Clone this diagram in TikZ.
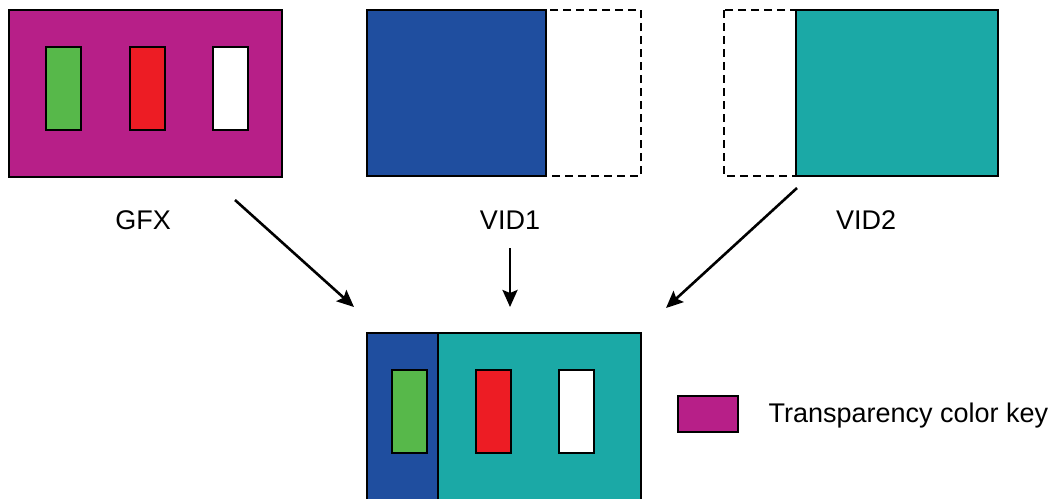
\documentclass[tikz,border=0pt]{standalone}
\usepackage{fontspec}
\setmainfont{Liberation Sans}
\usetikzlibrary{arrows.meta}
\definecolor{keymag}{HTML}{B71F88}
\definecolor{bargreen}{HTML}{57B84A}
\definecolor{barred}{HTML}{ED1C24}
\definecolor{vidblue}{HTML}{1F4E9F}
\definecolor{vidteal}{HTML}{1BA9A6}
\tikzset{
  frame/.style={draw,line width=2.8pt,line join=miter},
  dashframe/.style={draw,line width=2.6pt,dash pattern=on 8pt off 5pt},
  bar/.style={draw,line width=2.2pt,inner sep=0pt,minimum width=35pt,minimum height=83pt,anchor=north west},
  flow/.style={->,line width=2.6pt},
}
\begin{document}
\begin{tikzpicture}[>={Stealth[length=17pt,width=15pt,inset=3pt]},line cap=butt,x=1pt,y=-1pt,font=\fontsize{27}{32}\selectfont]
  \useasboundingbox (0,0) rectangle (1056,498);
  % graphics layer
  \draw[frame,fill=keymag] (9,10) rectangle (282,177);
  \node[bar,fill=bargreen] (gfxg) at (45,46) {};
  \node[bar,fill=barred] (gfxr) at (129,46) {};
  \node[bar,fill=white] (gfxw) at (212,46) {};
  % video layer 1
  \draw[dashframe] (367,10) rectangle (641,176);
  \draw[frame,fill=vidblue] (367,10) rectangle (546,176);
  % video layer 2
  \draw[dashframe] (724,10) rectangle (998,176);
  \draw[frame,fill=vidteal] (796,10) rectangle (998,176);
  % labels
  \node (gfx) at (143,220) {GFX};
  \node (vid1) at (510,220) {VID1};
  \node (vid2) at (866,220) {VID2};
  % result
  \fill[vidblue] (367,333) rectangle (438,520);
  \fill[vidteal] (438,333) rectangle (641,520);
  \draw[frame] (367,520) -- (367,333) -- (641,333) -- (641,520);
  \draw[line width=2.6pt] (438,333) -- (438,520);
  \node[bar,fill=bargreen] (outg) at (391,369) {};
  \node[bar,fill=barred] (outr) at (475,369) {};
  \node[bar,fill=white] (outw) at (558,369) {};
  % legend
  \node[draw,line width=2.2pt,fill=keymag,inner sep=0pt,minimum width=60pt,minimum height=36pt,anchor=north west] (key) at (677,395) {};
  \node[anchor=base west] (keytext) at (765,422) {Transparency color key};
  % arrows
  \coordinate (a1) at (235,200);
  \coordinate (b1) at (354,307);
  \coordinate (a2) at (510,248);
  \coordinate (b2) at (510,307);
  \coordinate (a3) at (797,188);
  \coordinate (b3) at (666,308);
  \draw[flow] (a1) -- (b1);
  \draw[flow] (a2) -- (b2);
  \draw[flow] (a3) -- (b3);
\end{tikzpicture}
\end{document}
